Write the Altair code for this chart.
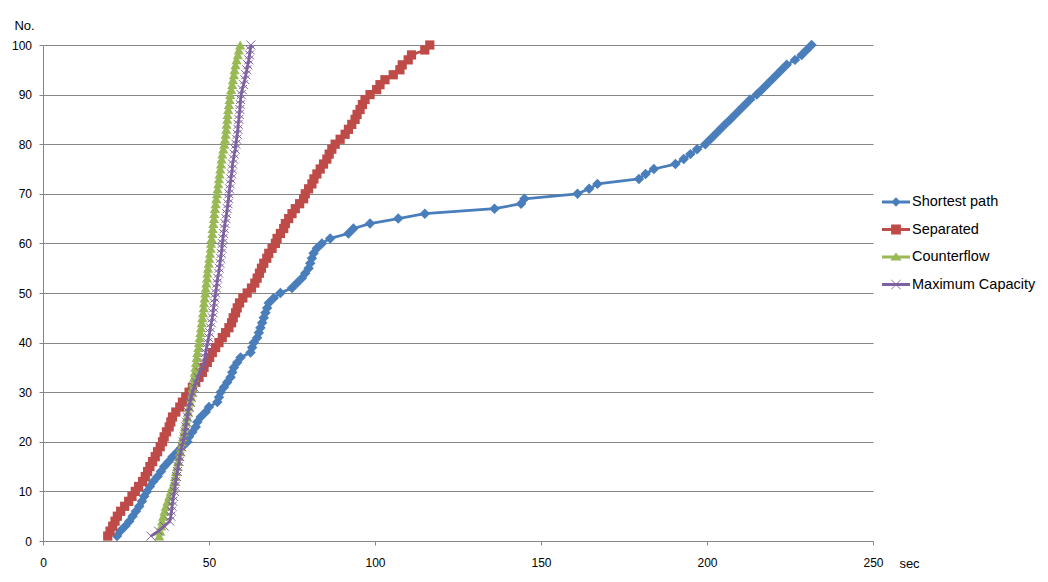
import altair as alt
import pandas as pd

# ---- data ----
arrival_no = list(range(1, 101))

shortest_path = [
    22.3, 23.3, 24.8, 26.0, 27.0, 28.0, 29.0, 29.8, 30.5, 31.3,
    32.2, 33.2, 34.5, 35.5, 36.5, 37.8, 39.0, 40.5, 42.0, 43.5,
    44.0, 45.0, 46.0, 46.5, 47.5, 49.0, 50.0, 52.5, 53.0, 53.5,
    54.5, 55.5, 56.5, 57.0, 57.5, 58.5, 59.5, 62.5, 63.0, 63.5,
    64.5, 65.0, 65.5, 66.0, 66.5, 67.0, 67.5, 68.0, 69.5, 71.5,
    75.0, 76.5, 78.0, 79.0, 80.0, 80.5, 81.0, 81.5, 82.5, 84.0,
    86.5, 92.0, 93.5, 98.5, 107.0, 115.0, 136.0, 144.0, 145.0, 161.0,
    164.5, 167.0, 179.5, 181.5, 184.0, 190.5, 193.0, 195.0, 197.0, 199.5,
    201.0, 202.5, 204.0, 205.5, 207.0, 208.5, 210.0, 211.5, 213.0, 215.0,
    216.5, 218.0, 219.5, 221.0, 222.5, 224.0, 226.5, 228.5, 230.0, 231.5,
]

separated = [
    19.5, 20.2, 21.0, 21.7, 22.4, 23.4, 24.6, 25.8, 26.8, 27.8,
    28.8, 30.0, 30.8, 31.5, 32.2, 33.0, 33.8, 34.5, 35.3, 36.0,
    36.5, 37.2, 38.0, 38.5, 39.0, 40.0, 41.2, 42.0, 43.0, 44.0,
    45.0, 46.0, 47.0, 48.0, 48.5, 49.5, 50.2, 51.0, 52.0, 53.0,
    54.0, 55.0, 56.0, 56.8, 57.3, 58.0, 58.5, 59.2, 60.2, 61.5,
    62.8, 63.8, 64.5, 65.2, 65.8, 66.5, 67.4, 68.0, 69.0, 70.0,
    70.5, 71.5, 72.5, 73.0, 74.0, 75.0, 76.0, 77.3, 78.5, 79.0,
    80.0, 81.0, 81.6, 82.5, 83.5, 84.5, 85.5, 86.2, 87.0, 88.0,
    89.5, 91.0, 92.0, 93.0, 94.0, 94.6, 95.5, 96.2, 97.0, 98.5,
    100.5, 101.5, 103.0, 105.5, 107.5, 108.2, 110.0, 111.0, 115.0, 116.5,
]

counterflow = [
    35.0, 35.3, 35.6, 35.9, 36.2, 36.6, 37.0, 37.5, 38.0, 38.5,
    39.0, 39.5, 39.8, 40.1, 40.4, 40.7, 41.0, 41.3, 41.6, 41.9,
    42.2, 42.5, 42.8, 43.1, 43.4, 43.7, 44.0, 44.3, 44.6, 44.9,
    45.1, 45.3, 45.5, 45.7, 45.9, 46.1, 46.3, 46.5, 46.8, 47.0,
    47.2, 47.4, 47.6, 47.8, 48.0, 48.2, 48.4, 48.5, 48.7, 48.9,
    49.0, 49.2, 49.4, 49.5, 49.7, 49.9, 50.1, 50.3, 50.5, 50.6,
    50.8, 51.0, 51.1, 51.3, 51.5, 51.6, 51.8, 52.0, 52.2, 52.4,
    52.6, 52.8, 53.0, 53.2, 53.4, 53.6, 53.8, 54.0, 54.3, 54.6,
    54.8, 55.0, 55.2, 55.3, 55.5, 55.6, 55.8, 56.0, 56.2, 56.4,
    56.7, 57.0, 57.2, 57.5, 57.7, 58.0, 58.3, 58.7, 59.0, 59.4,
]

maximum_capacity = [
    32.5, 34.8, 36.5, 38.2, 38.5, 38.7, 38.9, 39.1, 39.3, 39.6,
    39.8, 40.0, 40.2, 40.5, 40.7, 41.0, 41.2, 41.5, 41.8, 42.2,
    42.5, 42.8, 43.0, 43.2, 43.5, 43.7, 44.0, 44.3, 44.6, 45.0,
    45.5, 46.0, 46.6, 47.2, 48.0, 48.5, 48.8, 49.0, 49.3, 49.6,
    49.9, 50.2, 50.4, 50.7, 51.0, 51.2, 51.4, 51.6, 51.8, 52.0,
    52.2, 52.4, 52.6, 52.9, 53.1, 53.3, 53.5, 53.7, 53.9, 54.0,
    54.2, 54.4, 54.6, 54.8, 55.1, 55.3, 55.5, 55.7, 55.9, 56.0,
    56.2, 56.4, 56.6, 56.8, 57.0, 57.1, 57.4, 57.6, 57.9, 58.1,
    58.3, 58.5, 58.7, 58.8, 59.0, 59.1, 59.3, 59.4, 59.5, 59.7,
    60.0, 60.4, 60.8, 61.1, 61.4, 61.7, 62.0, 62.2, 62.4, 62.6,
]

series_names = ["Shortest path", "Separated", "Counterflow", "Maximum Capacity"]
series_values = [shortest_path, separated, counterflow, maximum_capacity]
series_colors = ["#4A7EBB", "#BE4B48", "#98B954", "#7D60A0"]
x_tick_values = [0, 50, 100, 150, 200, 250]
y_tick_values = [0, 10, 20, 30, 40, 50, 60, 70, 80, 90, 100]

# ---- styles ----
X_PATH = "M-1,-1L1,1M-1,1L1,-1"
marker_shapes = ["diamond", "square", "triangle-up", X_PATH]
marker_filled = [True, True, True, False]
marker_sizes = [110, 85, 105, 81]

LEGEND_LINE = "M-1,-0.1H1V0.1H-1Z"
legend_paths = [
    LEGEND_LINE + " M0,-0.34L0.34,0L0,0.34L-0.34,0Z",
    LEGEND_LINE + " M-0.35,-0.35H0.35V0.35H-0.35Z",
    LEGEND_LINE + " M0,-0.33L0.4,0.25H-0.4Z",
    LEGEND_LINE + " M-0.35,-0.32L-0.32,-0.35L0.35,0.32L0.32,0.35Z"
    " M-0.35,0.32L0.32,-0.35L0.35,-0.32L-0.32,0.35Z",
]

rows = []
for name, vals in zip(series_names, series_values):
    for n, t in zip(arrival_no, vals):
        rows.append({"series": name, "sec": t, "no": n})
df = pd.DataFrame(rows)

FONT = "Liberation Sans"
GRAY = "#868686"

x_enc = alt.X(
    "sec:Q",
    scale=alt.Scale(domain=[0, 250], nice=False, zero=True),
    axis=alt.Axis(
        values=x_tick_values, grid=False, title="sec",
        domainColor=GRAY, tickColor=GRAY, tickSize=4,
        labelFont=FONT, labelFontSize=12, labelColor="#000",
        labelPadding=12.5, labelFlush=False,
        titleFont=FONT, titleFontSize=13, titleFontWeight="normal",
        titleColor="#000", titleAngle=0, titleAlign="center",
        titleBaseline="middle", titleX=866, titleY=22,
    ),
)
y_enc = alt.Y(
    "no:Q",
    scale=alt.Scale(domain=[0, 100], nice=False),
    axis=alt.Axis(
        values=y_tick_values, grid=True, gridColor=GRAY, gridWidth=1,
        title="No.",
        domainColor=GRAY, tickColor=GRAY, tickSize=4,
        labelFont=FONT, labelFontSize=12, labelColor="#000",
        labelPadding=7.5,
        titleFont=FONT, titleFontSize=13, titleFontWeight="normal",
        titleColor="#000", titleAngle=0, titleAlign="center",
        titleBaseline="middle", titleX=-19, titleY=-20,
    ),
)
color_scale = alt.Scale(domain=series_names, range=series_colors)
shape_scale = alt.Scale(domain=series_names, range=legend_paths)

layers = []
for name, shape, filled, size in zip(series_names, marker_shapes, marker_filled, marker_sizes):
    base = alt.Chart(df).transform_filter(alt.datum.series == name)
    line = base.mark_line(strokeWidth=2.75, strokeJoin="round").encode(
        x=x_enc, y=y_enc,
        color=alt.Color("series:N", scale=color_scale),
        order=alt.Order("no:Q"),
    )
    pts = base.mark_point(shape=shape, filled=filled, size=size, opacity=1,
                          strokeWidth=1).encode(
        x=x_enc, y=y_enc,
        color=alt.Color("series:N", scale=color_scale),
    )
    layers += [line, pts]

# invisible layer that only feeds the legend (line + marker symbols)
legend_layer = alt.Chart(df).mark_point(filled=True, opacity=0, size=784).encode(
    x=x_enc, y=y_enc,
    color=alt.Color("series:N", scale=color_scale),
    shape=alt.Shape("series:N", scale=shape_scale),
)
layers.append(legend_layer)

chart = alt.layer(*layers).properties(
    width=830, height=496,
    autosize=alt.AutoSizeParams(type="none"),
    padding={"left": 35, "top": 37, "right": 167, "bottom": 30},
    background="white",
).configure_view(
    stroke=None
).configure_legend(
    title=None, orient="none", legendX=839, legendY=143,
    symbolSize=784, symbolStrokeWidth=0, symbolOpacity=1,
    labelFont=FONT, labelFontSize=14.5, labelColor="#000",
    labelOffset=2, rowPadding=6.5, padding=0,
)

chart.save("out.html", embed_options={"renderer": "svg", "actions": False})
